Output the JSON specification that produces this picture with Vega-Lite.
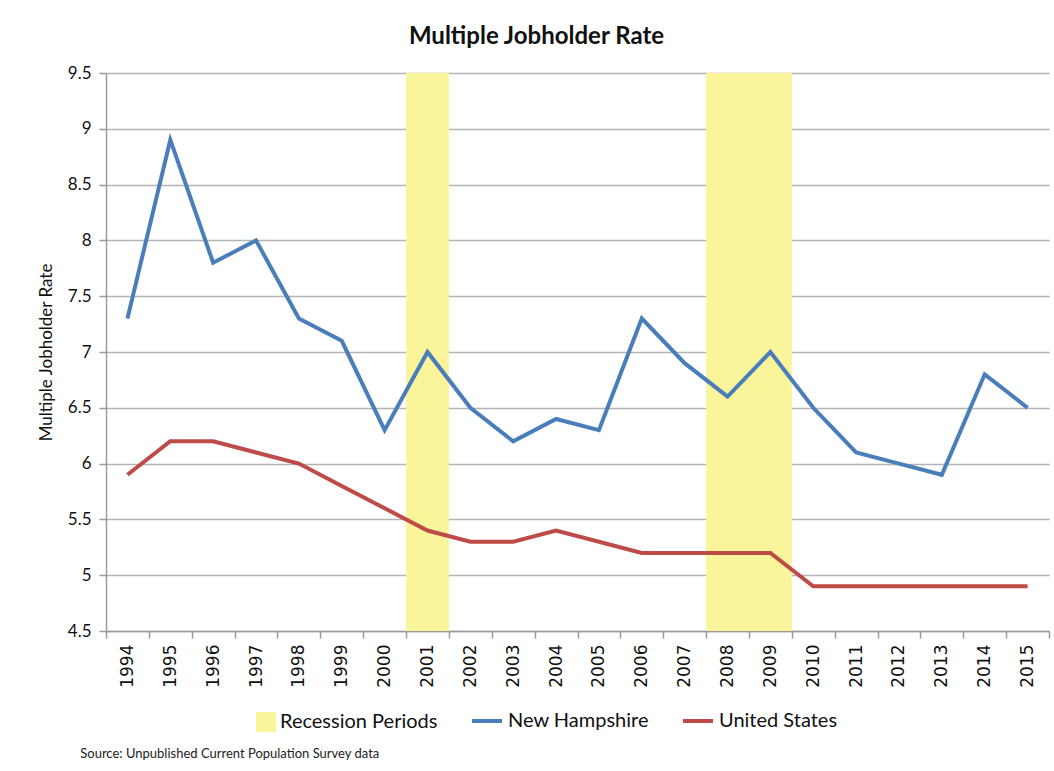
{
  "$schema": "https://vega.github.io/schema/vega-lite/v6.json",
  "width": 943,
  "height": 558,
  "padding": {"left": 37, "top": 24, "right": 5, "bottom": 10},
  "background": "white",
  "title": {
    "text": "Source: Unpublished Current Population Survey data",
    "orient": "bottom",
    "anchor": "start",
    "frame": "bounds",
    "fontSize": 13,
    "fontWeight": "normal",
    "font": "Lato",
    "color": "#222222",
    "offset": 16,
    "dx": 43
  },
  "datasets": {
    "recession": [
      {"year": 2001, "label": "Recession Periods"},
      {"year": 2008, "label": "Recession Periods"},
      {"year": 2009, "label": "Recession Periods"}
    ],
    "rates": [
      {"year": 1994, "series": "New Hampshire", "value": 7.3},
      {"year": 1995, "series": "New Hampshire", "value": 8.9},
      {"year": 1996, "series": "New Hampshire", "value": 7.8},
      {"year": 1997, "series": "New Hampshire", "value": 8.0},
      {"year": 1998, "series": "New Hampshire", "value": 7.3},
      {"year": 1999, "series": "New Hampshire", "value": 7.1},
      {"year": 2000, "series": "New Hampshire", "value": 6.3},
      {"year": 2001, "series": "New Hampshire", "value": 7.0},
      {"year": 2002, "series": "New Hampshire", "value": 6.5},
      {"year": 2003, "series": "New Hampshire", "value": 6.2},
      {"year": 2004, "series": "New Hampshire", "value": 6.4},
      {"year": 2005, "series": "New Hampshire", "value": 6.3},
      {"year": 2006, "series": "New Hampshire", "value": 7.3},
      {"year": 2007, "series": "New Hampshire", "value": 6.9},
      {"year": 2008, "series": "New Hampshire", "value": 6.6},
      {"year": 2009, "series": "New Hampshire", "value": 7.0},
      {"year": 2010, "series": "New Hampshire", "value": 6.5},
      {"year": 2011, "series": "New Hampshire", "value": 6.1},
      {"year": 2012, "series": "New Hampshire", "value": 6.0},
      {"year": 2013, "series": "New Hampshire", "value": 5.9},
      {"year": 2014, "series": "New Hampshire", "value": 6.8},
      {"year": 2015, "series": "New Hampshire", "value": 6.5},
      {"year": 1994, "series": "United States", "value": 5.9},
      {"year": 1995, "series": "United States", "value": 6.2},
      {"year": 1996, "series": "United States", "value": 6.2},
      {"year": 1997, "series": "United States", "value": 6.1},
      {"year": 1998, "series": "United States", "value": 6.0},
      {"year": 1999, "series": "United States", "value": 5.8},
      {"year": 2000, "series": "United States", "value": 5.6},
      {"year": 2001, "series": "United States", "value": 5.4},
      {"year": 2002, "series": "United States", "value": 5.3},
      {"year": 2003, "series": "United States", "value": 5.3},
      {"year": 2004, "series": "United States", "value": 5.4},
      {"year": 2005, "series": "United States", "value": 5.3},
      {"year": 2006, "series": "United States", "value": 5.2},
      {"year": 2007, "series": "United States", "value": 5.2},
      {"year": 2008, "series": "United States", "value": 5.2},
      {"year": 2009, "series": "United States", "value": 5.2},
      {"year": 2010, "series": "United States", "value": 4.9},
      {"year": 2011, "series": "United States", "value": 4.9},
      {"year": 2012, "series": "United States", "value": 4.9},
      {"year": 2013, "series": "United States", "value": 4.9},
      {"year": 2014, "series": "United States", "value": 4.9},
      {"year": 2015, "series": "United States", "value": 4.9}
    ]
  },
  "resolve": {"axis": {"x": "independent"}},
  "layer": [
    {
      "data": {"name": "recession"},
      "mark": {"type": "bar", "opacity": 1},
      "encoding": {
        "x": {
          "field": "year",
          "type": "ordinal",
          "scale": {
            "type": "band",
            "paddingInner": 0,
            "paddingOuter": 0,
            "domain": [1994,1995,1996,1997,1998,1999,2000,2001,2002,2003,2004,2005,2006,2007,2008,2009,2010,2011,2012,2013,2014,2015]
          },
          "axis": {
            "orient": "bottom",
            "title": null,
            "labelAngle": 270,
            "labelFont": "DejaVu Sans",
            "labelFontSize": 17,
            "labelColor": "#111111",
            "labelPadding": 6,
            "tickBand": "extent",
            "tickSize": 7,
            "tickColor": "#9a9a9a",
            "tickWidth": 1.5,
            "domainColor": "#9a9a9a",
            "domainWidth": 1.5,
            "grid": false
          }
        },
        "y": {"datum": 9.5, "type": "quantitative"},
        "y2": {"datum": 4.5},
        "fill": {
          "field": "label",
          "type": "nominal",
          "scale": {"domain": ["Recession Periods"], "range": ["#FAF59B"]},
          "legend": {
            "title": null,
            "orient": "none",
            "legendX": 150,
            "legendY": 639,
            "symbolType": "square",
            "symbolSize": 400,
            "symbolStrokeWidth": 0,
            "labelFont": "Lato",
            "labelFontSize": 20,
            "labelColor": "#111111",
            "labelOffset": 4
          }
        }
      }
    },
    {
      "data": {"name": "rates"},
      "mark": {"type": "line", "strokeWidth": 4, "strokeJoin": "miter"},
      "encoding": {
        "x": {
          "field": "year",
          "type": "ordinal",
          "axis": {
            "orient": "top",
            "labels": false,
            "ticks": false,
            "domain": false,
            "grid": false,
            "title": "Multiple Jobholder Rate",
            "titleFont": "Lato",
            "titleFontSize": 24,
            "titleFontWeight": "bold",
            "titleColor": "#111111",
            "titlePadding": 25,
            "titleX": 430
          }
        },
        "y": {
          "field": "value",
          "type": "quantitative",
          "scale": {"domain": [4.5, 9.5], "zero": false, "nice": false},
          "axis": {
            "title": "Multiple Jobholder Rate",
            "titleFont": "Lato",
            "titleFontSize": 17,
            "titleFontWeight": "normal",
            "titleColor": "#111111",
            "titlePadding": 12,
            "values": [4.5, 5, 5.5, 6, 6.5, 7, 7.5, 8, 8.5, 9, 9.5],
            "format": "~g",
            "labelFont": "Lato",
            "labelFontSize": 17,
            "labelColor": "#111111",
            "labelPadding": 8,
            "tickSize": 7,
            "tickColor": "#9a9a9a",
            "tickWidth": 1.5,
            "domainColor": "#9a9a9a",
            "domainWidth": 1.5,
            "grid": true,
            "gridColor": "#b4b4b4",
            "gridWidth": 1.5
          }
        },
        "stroke": {
          "field": "series",
          "type": "nominal",
          "scale": {"domain": ["New Hampshire", "United States"], "range": ["#4A7EBB", "#BE4B48"]},
          "legend": {
            "title": null,
            "orient": "none",
            "legendX": 364,
            "legendY": 631,
            "direction": "horizontal",
            "columnPadding": 26,
            "symbolType": "stroke",
            "symbolSize": 900,
            "symbolStrokeWidth": 4,
            "labelFont": "Lato",
            "labelFontSize": 20,
            "labelColor": "#111111",
            "labelOffset": 4
          }
        }
      }
    }
  ],
  "config": {
    "view": {"stroke": null}
  }
}
